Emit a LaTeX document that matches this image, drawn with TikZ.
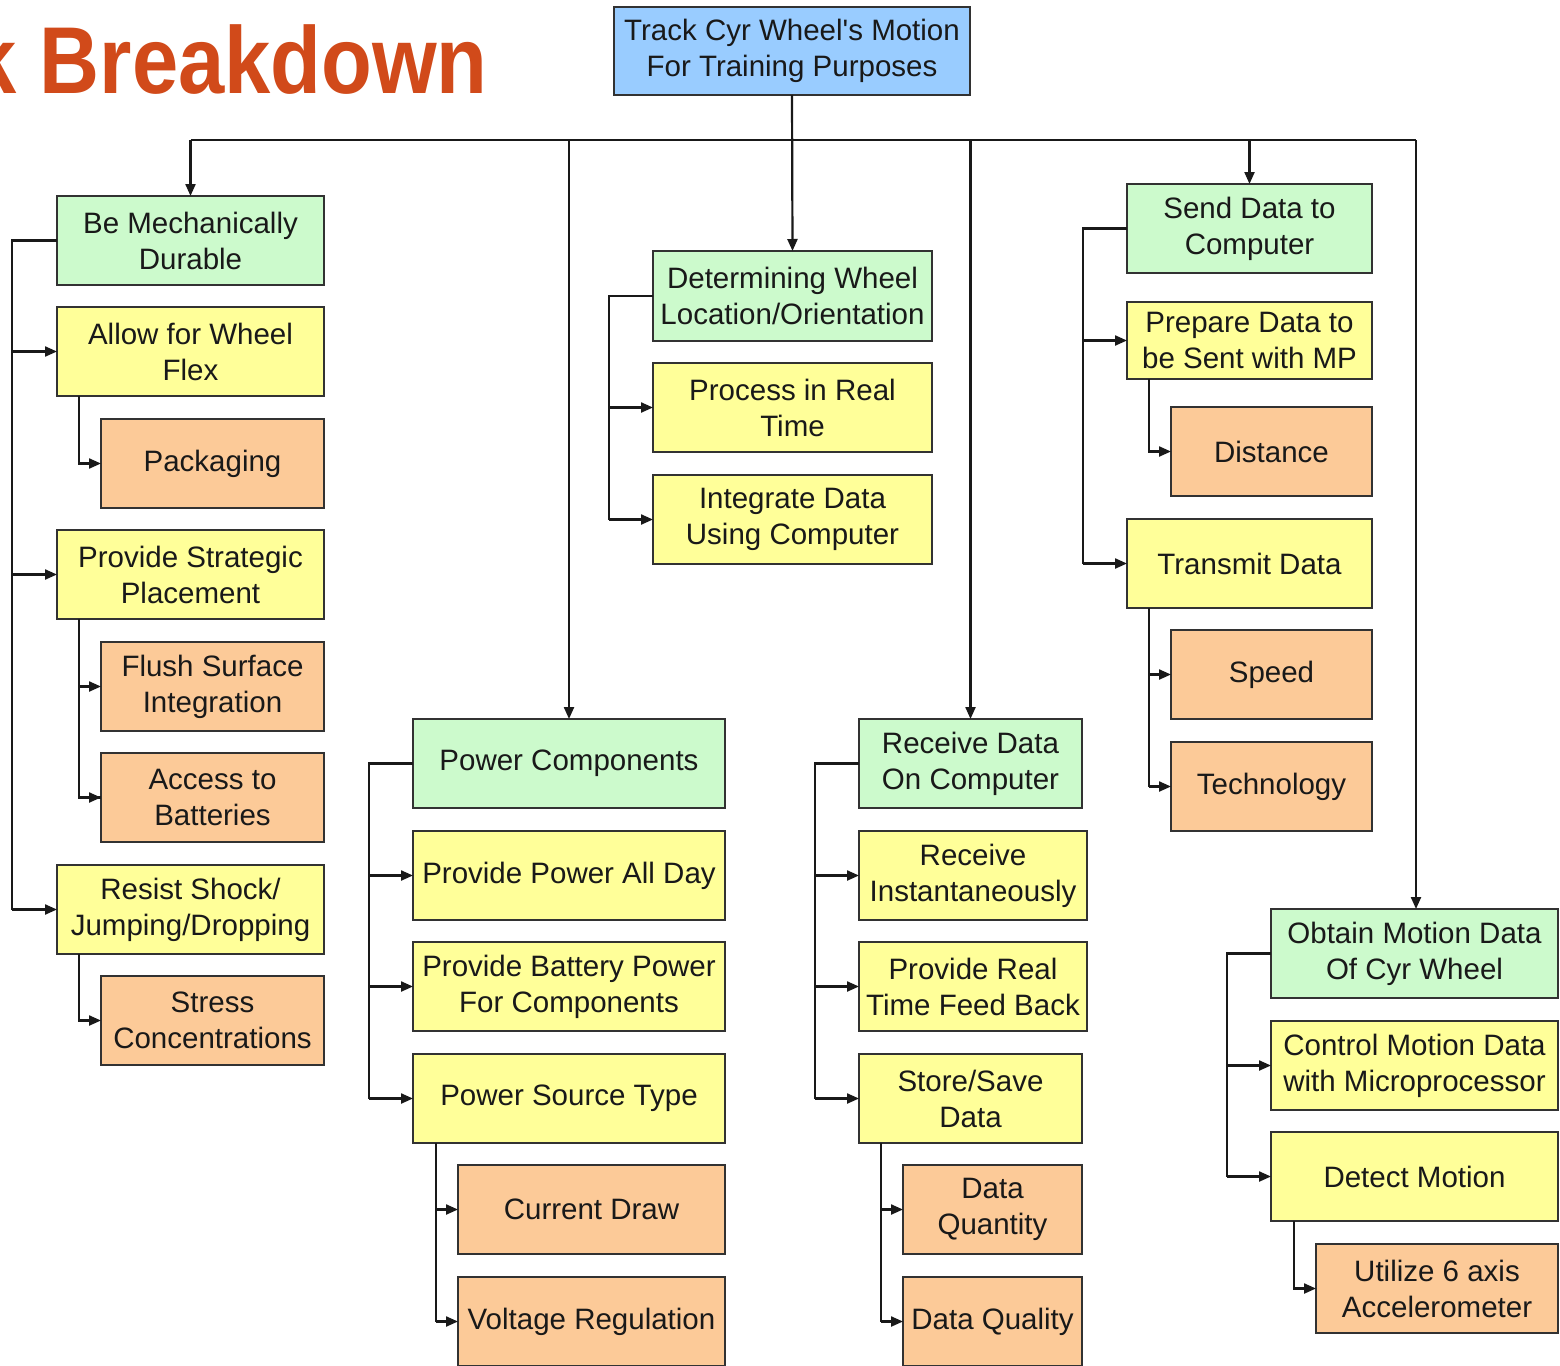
\documentclass[tikz,border=0pt]{standalone}
\usepackage{fontspec}
\setmainfont{Liberation Sans}
\usetikzlibrary{arrows.meta}
\definecolor{gfill}{RGB}{204,250,204}
\definecolor{yfill}{RGB}{255,255,153}
\definecolor{ofill}{RGB}{252,202,152}
\definecolor{bfill}{RGB}{153,204,255}
\definecolor{titlec}{RGB}{209,74,26}
\definecolor{edge}{RGB}{50,50,50}
\newcommand{\bx}[7]{\node[box,#6,minimum width={#4-#2},minimum height={#5-#3},anchor=north west] (#1) at (#2,#3) {#7};}
\tikzset{
  box/.style={draw=edge, line width=2.2pt, align=center, inner sep=0pt, outer sep=0pt,
    font=\fontsize{29.5}{36}\selectfont, text=black!90},
  grn/.style={fill=gfill},
  ylw/.style={fill=yfill},
  org/.style={fill=ofill},
  blu/.style={fill=bfill},
  ln/.style={draw=black!90, line width=2.2pt},
  arr/.style={ln, -{Triangle[length=12pt,width=10pt]}},
}
\begin{document}
\begin{tikzpicture}[x=1pt,y=-1pt]
\clip (0,0) rectangle (1560,1365);
\fill[white] (0,0) rectangle (1560,1365);
% title
\node[anchor=base east, text=titlec, font=\bfseries\fontsize{95}{100}\selectfont, inner sep=0pt, xscale=0.875] (title) at (488,93) {k Breakdown};
% root
\bx{root}{614}{7}{970}{95}{blu}{Track Cyr Wheel\textquotesingle s Motion\\For Training Purposes}
% column 1
\bx{bmd}{57}{196}{324}{285}{grn}{Be Mechanically\\Durable}
\bx{awf}{57}{307}{324}{396}{ylw}{Allow for Wheel\\Flex}
\bx{pkg}{101}{419}{324}{508}{org}{Packaging}
\bx{pss}{57}{530}{324}{619}{ylw}{Provide Strategic\\Placement}
\bx{fsi}{101}{642}{324}{731}{org}{Flush Surface\\Integration}
\bx{atb}{101}{753}{324}{842}{org}{Access to\\Batteries}
\bx{rsj}{57}{865}{324}{954}{ylw}{Resist Shock/\\Jumping/Dropping}
\bx{stc}{101}{976}{324}{1065}{org}{Stress\\Concentrations}
% column determining
\bx{dwl}{653}{251}{932}{341}{grn}{Determining Wheel\\Location/Orientation}
\bx{prt}{653}{363}{932}{452}{ylw}{Process in Real\\Time}
\bx{idc}{653}{475}{932}{564}{ylw}{Integrate Data\\Using Computer}
% column power
\bx{pwc}{413}{719}{725}{808}{grn}{Power Components}
\bx{ppd}{413}{831}{725}{920}{ylw}{Provide Power All Day}
\bx{pbp}{413}{942}{725}{1031}{ylw}{Provide Battery Power\\For Components}
\bx{pst}{413}{1054}{725}{1143}{ylw}{Power Source Type}
\bx{cdr}{458}{1165}{725}{1254}{org}{Current Draw}
\bx{vrg}{458}{1277}{725}{1366}{org}{Voltage Regulation}
% column receive
\bx{rdc}{859}{719}{1082}{808}{grn}{Receive Data\\On Computer}
\bx{rin}{859}{831}{1087}{920}{ylw}{Receive\\Instantaneously}
\bx{prf}{859}{942}{1087}{1031}{ylw}{Provide Real\\Time Feed Back}
\bx{ssd}{859}{1054}{1082}{1143}{ylw}{Store/Save\\Data}
\bx{dqn}{903}{1165}{1082}{1254}{org}{Data\\Quantity}
\bx{dql}{903}{1277}{1082}{1366}{org}{Data Quality}
% column send
\bx{sdc}{1127}{184}{1372}{273}{grn}{Send Data to\\Computer}
\bx{pds}{1127}{302}{1372}{379}{ylw}{Prepare Data to\\be Sent with MP}
\bx{dst}{1171}{407}{1372}{496}{org}{Distance}
\bx{trd}{1127}{519}{1372}{608}{ylw}{Transmit Data}
\bx{spd}{1171}{630}{1372}{719}{org}{Speed}
\bx{tec}{1171}{742}{1372}{831}{org}{Technology}
% column obtain
\bx{omd}{1271}{909}{1558}{998}{grn}{Obtain Motion Data\\Of Cyr Wheel}
\bx{cmd}{1271}{1021}{1558}{1110}{ylw}{Control Motion Data\\with Microprocessor}
\bx{dtm}{1271}{1132}{1558}{1221}{ylw}{Detect Motion}
\bx{u6a}{1316}{1244}{1558}{1333}{org}{Utilize 6 axis\\Accelerometer}
% bus
\coordinate (bus) at (0,140);
\draw[ln] (bmd.north |- bus) -- ([xshift=1.5pt]omd.north |- bus);
\draw[arr] (root.south) -- (dwl.north);
\draw[arr] (bmd.north |- bus) -- (bmd.north);
\draw[arr] (pwc.north |- bus) -- (pwc.north);
\draw[arr] (rdc.north |- bus) -- (rdc.north);
\draw[arr] (sdc.north |- bus) -- (sdc.north);
\draw[arr] ([xshift=1.5pt]omd.north |- bus) -- ([xshift=1.5pt]omd.north);
% column 1 spines
\coordinate (s1) at (12,0);
\draw[ln] (bmd.west) -- (bmd.west -| s1) -- (rsj.west -| s1);
\draw[arr] (awf.west -| s1) -- (awf.west);
\draw[arr] (pss.west -| s1) -- (pss.west);
\draw[arr] (rsj.west -| s1) -- (rsj.west);
\draw[arr] ([xshift=22pt]awf.south west) |- (pkg.west);
\draw[ln] ([xshift=22pt]pss.south west) |- (atb.west);
\draw[arr] ([xshift=22pt]pss.south west |- fsi.west) -- (fsi.west);
\draw[arr] ([xshift=22pt]pss.south west |- atb.west) -- (atb.west);
\draw[arr] ([xshift=22pt]rsj.south west) |- (stc.west);
% determining spine
\coordinate (s2) at (609,0);
\draw[ln] (dwl.west) -- (dwl.west -| s2) -- (idc.west -| s2);
\draw[arr] (prt.west -| s2) -- (prt.west);
\draw[arr] (idc.west -| s2) -- (idc.west);
% power spine
\coordinate (s3) at (369,0);
\draw[ln] (pwc.west) -- (pwc.west -| s3) -- (pst.west -| s3);
\draw[arr] (ppd.west -| s3) -- (ppd.west);
\draw[arr] (pbp.west -| s3) -- (pbp.west);
\draw[arr] (pst.west -| s3) -- (pst.west);
\draw[ln] ([xshift=23pt]pst.south west) -- ([xshift=23pt]pst.south west |- vrg.west);
\draw[arr] ([xshift=23pt]pst.south west |- cdr.west) -- (cdr.west);
\draw[arr] ([xshift=23pt]pst.south west |- vrg.west) -- (vrg.west);
% receive spine
\coordinate (s4) at (815,0);
\draw[ln] (rdc.west) -- (rdc.west -| s4) -- (ssd.west -| s4);
\draw[arr] (rin.west -| s4) -- (rin.west);
\draw[arr] (prf.west -| s4) -- (prf.west);
\draw[arr] (ssd.west -| s4) -- (ssd.west);
\draw[ln] ([xshift=22pt]ssd.south west) -- ([xshift=22pt]ssd.south west |- dql.west);
\draw[arr] ([xshift=22pt]ssd.south west |- dqn.west) -- (dqn.west);
\draw[arr] ([xshift=22pt]ssd.south west |- dql.west) -- (dql.west);
% send spine
\coordinate (s5) at (1083,0);
\draw[ln] (sdc.west) -- (sdc.west -| s5) -- (trd.west -| s5);
\draw[arr] (pds.west -| s5) -- (pds.west);
\draw[arr] (trd.west -| s5) -- (trd.west);
\draw[arr] ([xshift=22pt]pds.south west) |- (dst.west);
\draw[ln] ([xshift=22pt]trd.south west) -- ([xshift=22pt]trd.south west |- tec.west);
\draw[arr] ([xshift=22pt]trd.south west |- spd.west) -- (spd.west);
\draw[arr] ([xshift=22pt]trd.south west |- tec.west) -- (tec.west);
% obtain spine
\coordinate (s6) at (1227,0);
\draw[ln] (omd.west) -- (omd.west -| s6) -- (dtm.west -| s6);
\draw[arr] (cmd.west -| s6) -- (cmd.west);
\draw[arr] (dtm.west -| s6) -- (dtm.west);
\draw[arr] ([xshift=23pt]dtm.south west) |- (u6a.west);
\end{tikzpicture}
\end{document}
